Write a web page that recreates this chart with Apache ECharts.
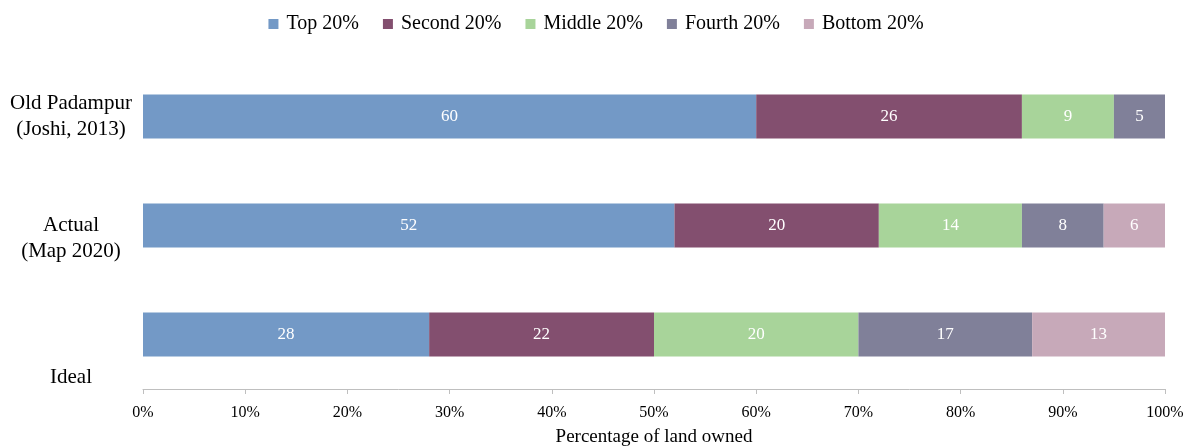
<!DOCTYPE html>
<html>
<head>
<meta charset="utf-8">
<script src="https://cdn.jsdelivr.net/npm/echarts@6/dist/echarts.min.js"></script>
<style>html,body{margin:0;padding:0;background:#fff}#c{width:1192px;height:448px}</style>
</head>
<body>
<div id="c"></div>
<script>
const categories = ['Old Padampur\n(Joshi, 2013)', 'Actual\n(Map 2020)', 'Ideal'];
const seriesNames = ['Top 20%', 'Second 20%', 'Middle 20%', 'Fourth 20%', 'Bottom 20%'];
const top20 = [60, 52, 28];
const second20 = [26, 20, 22];
const middle20 = [9, 14, 20];
const fourth20 = [5, 8, 17];
const bottom20 = [0, 6, 13];
const xTicks = [0, 10, 20, 30, 40, 50, 60, 70, 80, 90, 100];
const colors = ['#7399c6', '#834f6f', '#a8d49a', '#808099', '#c7a9b9'];

const values = [top20, second20, middle20, fourth20, bottom20];
const font = 'Liberation Serif';

function yLabel(v, i) {
  if (i === 0) return v;
  if (i === 1) return '\n' + v;
  return '{low|' + v + '}';
}

const chart = echarts.init(document.getElementById('c'));
chart.setOption({
  animation: false,
  color: colors,
  legend: {
    top: 9, left: 'center',
    itemWidth: 10, itemHeight: 10, itemGap: 24,
    icon: 'rect',
    textStyle: {fontFamily: font, fontSize: 20, color: '#000', padding: [0, 0, 0, 3]},
    data: seriesNames
  },
  grid: {left: 143, right: 27, top: 62, bottom: 59, outerBoundsMode: 'none', containLabel: false},
  xAxis: {
    type: 'value', min: 0, max: 100, interval: 10,
    axisLine: {show: true, lineStyle: {color: '#bfbfbf'}},
    axisTick: {show: true, length: 5, lineStyle: {color: '#bfbfbf'}},
    splitLine: {show: false},
    axisLabel: {fontFamily: font, fontSize: 16, color: '#000', margin: 16, formatter: v => v + '%'},
    name: 'Percentage of land owned', nameLocation: 'middle', nameGap: 39,
    nameTextStyle: {fontFamily: font, fontSize: 19, color: '#000'}
  },
  yAxis: {
    type: 'category', data: categories, inverse: true,
    axisLine: {show: false}, axisTick: {show: false},
    axisLabel: {
      fontFamily: font, fontSize: 21, color: '#000', align: 'center', margin: 72, lineHeight: 26,
      formatter: yLabel,
      rich: {low: {fontFamily: font, fontSize: 21, color: '#000', lineHeight: 26, padding: [85, 0, 0, 0]}}
    }
  },
  series: seriesNames.map((n, k) => ({
    name: n, type: 'bar', stack: 'total', barWidth: 44,
    data: values[k].map(v => v === 0 ? null : v),
    itemStyle: {color: colors[k]},
    label: {show: true, position: 'inside', color: '#fff', fontFamily: font, fontSize: 17}
  }))
});
</script>
</body>
</html>
